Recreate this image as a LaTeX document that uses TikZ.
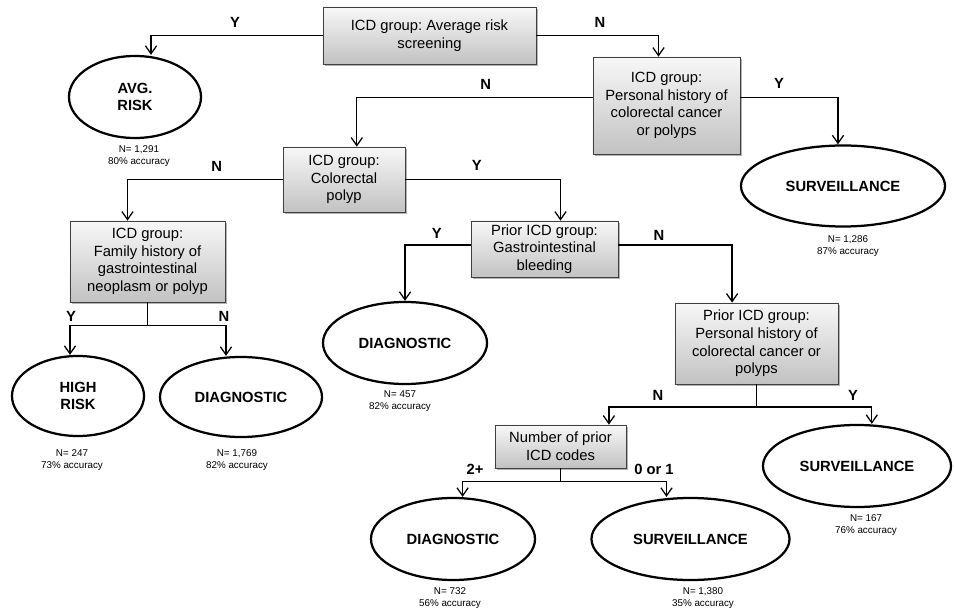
\documentclass[tikz,border=0pt]{standalone}
\usepackage{fontspec}
\setmainfont{Liberation Sans}
\frenchspacing
\usepackage{tikz}
\usetikzlibrary{arrows.meta, shapes.geometric, shadows}

\begin{document}
\begin{tikzpicture}[x=0.025cm, y=-0.025cm,
    box/.style={draw=black!75, line width=0.5pt, top color=gray!6, bottom color=gray!48,
      drop shadow={shadow xshift=1.2pt, shadow yshift=-1.2pt, fill=black!50, opacity=0.6},
      align=center, inner sep=1pt, font=\fontsize{10.5}{12.5}\selectfont},
    leaf/.style={draw, ellipse, line width=1.6pt, fill=white, align=center, inner sep=0pt,
      font=\fontsize{10.5}{12}\selectfont\bfseries},
    stat/.style={align=center, font=\fontsize{7}{9}\selectfont},
    lab/.style={font=\fontsize{10.5}{12}\selectfont\bfseries},
    link/.style={line width=0.9pt},
    arr/.style={link, -{Straight Barb[length=2mm, width=2.8mm]}}]
  \useasboundingbox (0,0) rectangle (954,616);

  % decision boxes
  \node[box, minimum width=5.325cm, minimum height=1.425cm] (top) at (429.5,35.5) {ICD group: Average risk\\screening};
  \node[box, minimum width=3.675cm, minimum height=2.425cm] (phist) at (666.5,105.5) {ICD group:\\Personal history of\\colorectal cancer\\or polyps};
  \node[box, minimum width=3.05cm, minimum height=1.625cm] (polyp) at (344,179.5) {ICD group:\\Colorectal\\polyp};
  \node[box, minimum width=3.875cm, minimum height=2.025cm] (fhist) at (147.5,261.5) {ICD group:\\Family history of\\gastrointestinal\\neoplasm or polyp};
  \node[box, minimum width=3.675cm, minimum height=1.4cm] (bleed) at (544.5,249) {Prior ICD group:\\Gastrointestinal\\bleeding};
  \node[box, minimum width=4.075cm, minimum height=2.025cm] (prior) at (756.5,343.5) {Prior ICD group:\\Personal history of\\colorectal cancer or\\polyps};
  \node[box, minimum width=3.275cm, minimum height=1.075cm] (count) at (560.5,446.5) {Number of prior\\ICD codes};

  % outcomes
  \node[leaf, minimum width=3.3cm, minimum height=2.05cm] (avg) at (135,97) {AVG.\\RISK};
  \node[leaf, minimum width=5.1cm, minimum height=2.025cm] (surv1) at (843,186) {SURVEILLANCE};
  \node[leaf, minimum width=3.3cm, minimum height=2cm] (high) at (78,396) {HIGH\\RISK};
  \node[leaf, minimum width=4.05cm, minimum height=2cm] (diag1) at (241,397) {DIAGNOSTIC};
  \node[leaf, minimum width=4.1cm, minimum height=2.05cm] (diag2) at (405,343) {DIAGNOSTIC};
  \node[leaf, minimum width=4.7cm, minimum height=2.05cm] (surv2) at (857,466) {SURVEILLANCE};
  \node[leaf, minimum width=4.1cm, minimum height=2.05cm] (diag3) at (453,539) {DIAGNOSTIC};
  \node[leaf, minimum width=4.95cm, minimum height=2.05cm] (surv3) at (690.5,539) {SURVEILLANCE};

  \foreach \n/\x/\y/\t in {avg/139/156/{N= 1,291\\80\% accuracy}, surv1/848/246/{N= 1,286\\87\% accuracy},
      high/72/460/{N= 247\\73\% accuracy}, diag1/237/460/{N= 1,769\\82\% accuracy},
      diag2/400/401/{N= 457\\82\% accuracy}, surv2/866/525/{N= 167\\76\% accuracy},
      diag3/450/598/{N= 732\\56\% accuracy}, surv3/703/598/{N= 1,380\\35\% accuracy}} {
    \node[stat] (s\n) at (\x,\y) {\t};
  }

  % branches
  \coordinate (fj) at (147.5,325.7);
  \coordinate (pj) at (756.5,407);
  \coordinate (cj) at (560.5,481.7);

  \draw[arr] (top.west) -| ([xshift=0.4cm]avg.north);
  \draw[arr] (top.east) -| ([xshift=-0.2cm]phist.north);
  \draw[arr] ([yshift=0.2cm]phist.east) -| ([xshift=-0.125cm]surv1.north);
  \draw[arr] ([yshift=0.2cm]phist.west) -| ([xshift=0.32cm]polyp.north);
  \draw[arr] (polyp.west) -| ([xshift=-0.5cm]fhist.north);
  \draw[arr] (polyp.east) -| ([xshift=0.4cm]bleed.north);
  \draw[arr] ([yshift=0.1cm]bleed.west) -| (diag2.north);
  \draw[arr] ([yshift=0.1cm]bleed.east) -| ([xshift=-0.61cm]prior.north);
  \draw[link] (fhist.south) -- (fj);
  \draw[arr] (fj) -| ([xshift=-0.2cm]high.north);
  \draw[arr] (fj) -| ([xshift=-0.375cm]diag1.north);
  \draw[link] (prior.south) -- (pj);
  \draw[arr] (pj) -| ([xshift=1.21cm]count.north);
  \draw[arr] (pj) -| ([xshift=0.37cm]surv2.north);
  \draw[link] (count.south) -- (cj);
  \draw[arr] (cj) -| ([xshift=0.24cm]diag3.north);
  \draw[arr] (cj) -| ([xshift=-0.6cm]surv3.north);

  % branch labels
  \node[lab] (l1) at (235,22) {Y};
  \node[lab] (l2) at (600,22) {N};
  \node[lab] (l3) at (779,83) {Y};
  \node[lab] (l4) at (485.7,84) {N};
  \node[lab] (l5) at (216.7,166) {N};
  \node[lab] (l6) at (476.7,165) {Y};
  \node[lab] (l7) at (436.7,233) {Y};
  \node[lab] (l8) at (659,235) {N};
  \node[lab] (l9) at (71,316.7) {Y};
  \node[lab] (l10) at (224,316.7) {N};
  \node[lab] (l11) at (658,395) {N};
  \node[lab] (l12) at (853,395) {Y};
  \node[lab] (l13) at (475,469) {2+};
  \node[lab] (l14) at (654,469) {0 or 1};
\end{tikzpicture}
\end{document}
